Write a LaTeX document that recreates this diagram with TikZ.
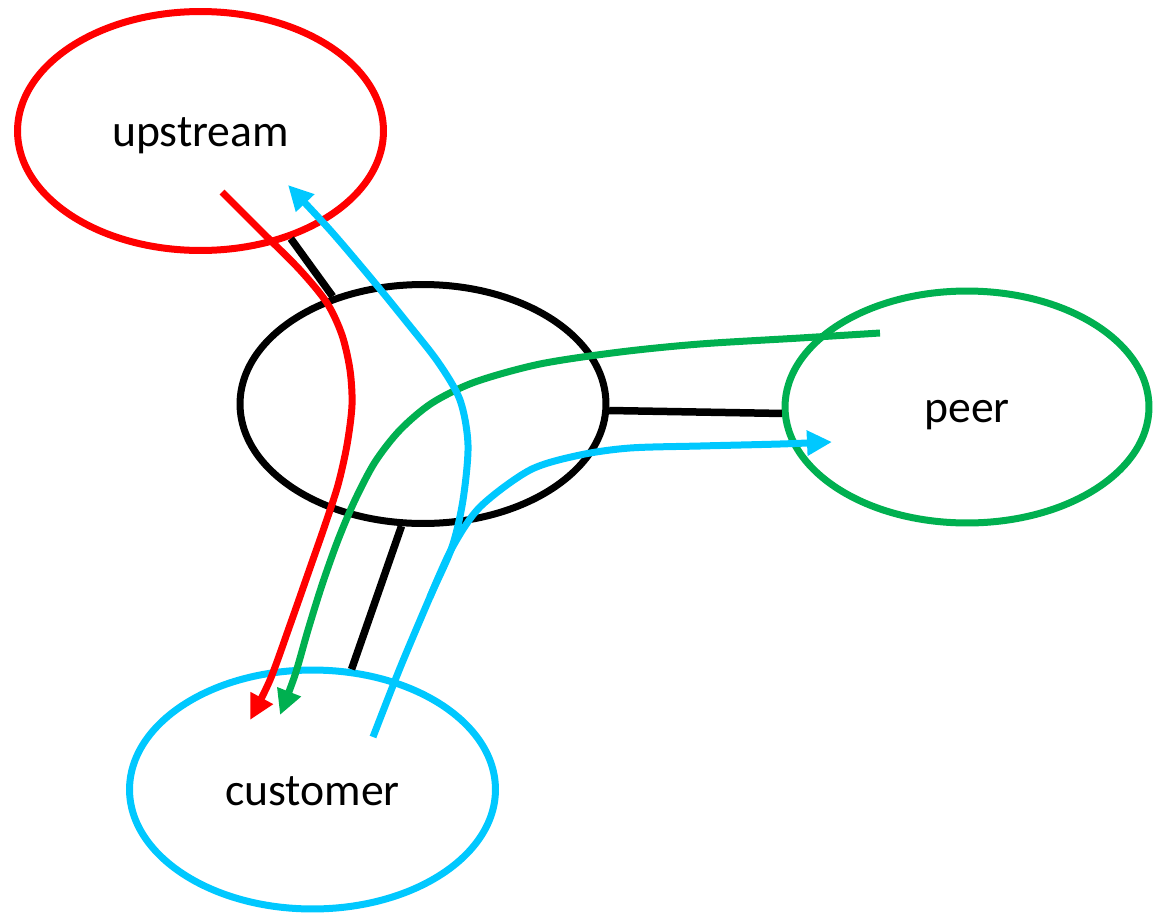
\documentclass[tikz,border=0pt]{standalone}
\usepackage{fontspec}
\setmainfont{Carlito}
\usetikzlibrary{arrows.meta,shapes.geometric}
\definecolor{cRed}{HTML}{FF0000}
\definecolor{cCyan}{HTML}{00C8FF}
\definecolor{cGreen}{HTML}{00B050}
\tikzset{
  oval/.style={ellipse, draw, line width=0.14cm, minimum width=7.32cm, minimum height=4.78cm, inner sep=0pt, text height=0.62cm, text depth=0cm, font=\fontsize{26}{30}\selectfont},
  link/.style={draw=black, line width=0.15cm},
  flow/.style={line width=0.14cm, -{Triangle[length=0.5cm,width=0.48cm]}},
}
\begin{document}
\begin{tikzpicture}[x=0.02cm,y=-0.02cm]
\useasboundingbox (0,0) rectangle (1153,913);
% ellipses
\node[oval, draw=cRed] (up) at (200.5,131) {upstream};
\node[oval, draw=black] (mid) at (423,404) {};
\node[oval, draw=cGreen, minimum height=4.64cm, minimum width=7.28cm] (peer) at (967,407) {peer};
\node[oval, draw=cCyan] (cust) at (312.5,789.5) {customer};
% links
\draw[link] (up.-50) -- (mid.130);
\draw[link] (mid.-2) -- (peer.182);
\draw[link] (mid.-100) -- (cust.72);
% flows
\draw[flow, cRed] plot[smooth] coordinates {(222,192) (262,232) (300,270) (327,303) (342,335) (350,370) (352,405) (347,445) (338,485) (325,525) (310,568) (290,625) (270,680) (250,720)};
\draw[flow, cGreen] plot[smooth] coordinates {(880,333) (800,338) (700,344) (620,352) (540,364) (475,382) (432,403) (400,430) (375,462) (355,500) (338,540) (322,585) (308,630) (295,675) (280,715)};
\draw[flow, cCyan] plot[smooth] coordinates {(373,737) (400,668) (430,597) (452,547) (463,500) (468,445) (460,400) (438,362) (405,320) (370,277) (330,230) (288,185)};
\draw[flow, cCyan] plot[smooth] coordinates {(430,597) (452,548) (480,507) (530,470) (580,455) (630,448) (700,446) (780,444) (832,442)};
\end{tikzpicture}
\end{document}
